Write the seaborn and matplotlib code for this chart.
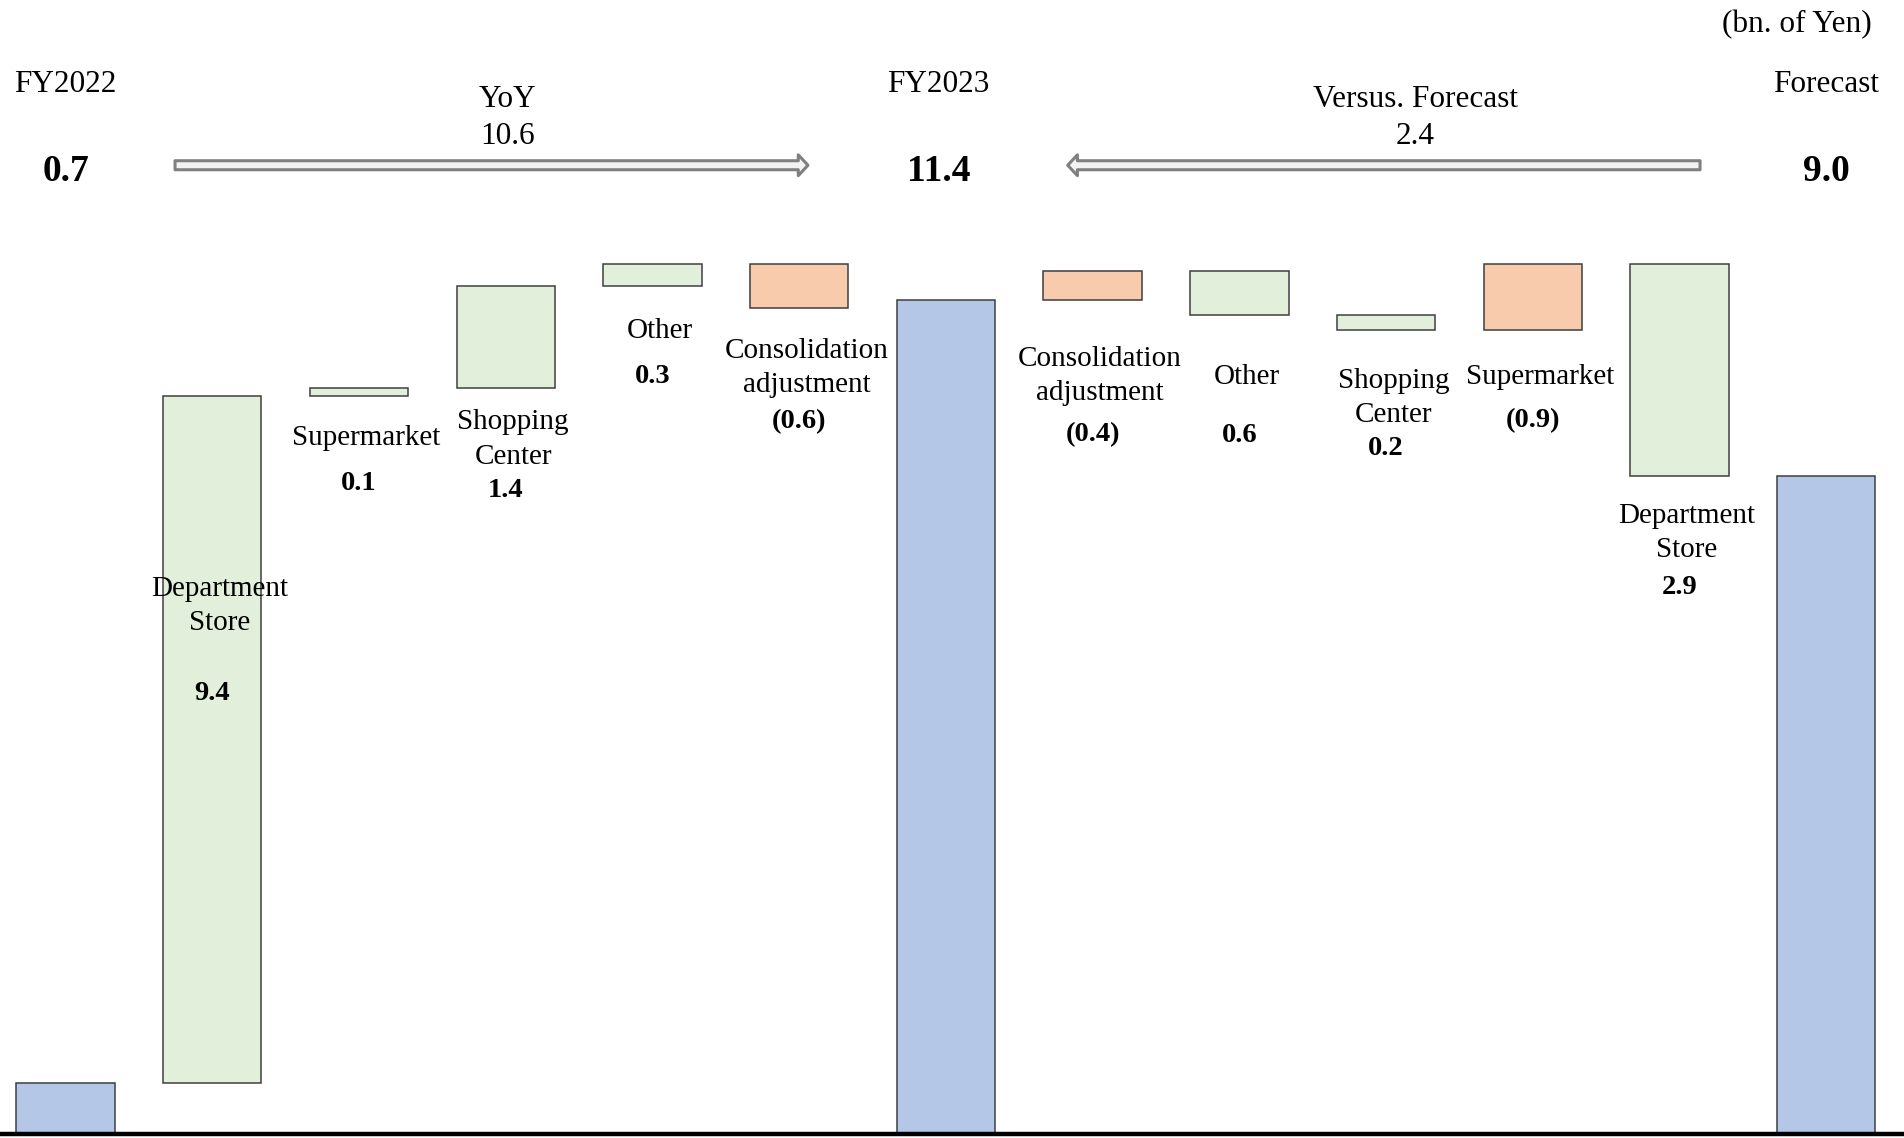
import numpy as np
import pandas as pd
import matplotlib
matplotlib.use("Agg")
import matplotlib.pyplot as plt
import seaborn as sns

# ---- data (bn. of Yen) ----
fy2022 = 0.7
fy2023 = 11.4
forecast = 9.0
yoy_diff = 10.6
vs_forecast_diff = 2.4

left_names = ["Department\nStore", "Supermarket", "Shopping\nCenter", "Other",
              "Consolidation\nadjustment"]
left_changes = [9.4, 0.1, 1.4, 0.3, -0.6]

right_names = ["Consolidation\nadjustment", "Other", "Shopping\nCenter", "Supermarket",
               "Department\nStore"]
right_changes = [-0.4, 0.6, 0.2, -0.9, 2.9]

# ---- label placement (data units) ----
name_y = [7.22, 9.52, 9.50, 10.98, 10.48,
          10.37, 10.36, 10.07, 10.36, 8.22]
value_y = [6.03, 8.90, 8.80, 10.36, 9.75,
           9.57, 9.55, 9.38, 9.76, 7.47]

COL_TOTAL = "#B4C7E7"
COL_UP = "#E2EFDA"
COL_DOWN = "#F8CBAD"
EDGE = "#3F3F3F"

# ---- build floating bar geometry ----
bottoms, heights, colors = [0.0], [fy2022], [COL_TOTAL]
level = fy2022
for ch in left_changes:
    new = level + ch
    bottoms.append(min(level, new))
    heights.append(abs(ch))
    colors.append(COL_UP if ch >= 0 else COL_DOWN)
    level = new

bottoms.append(0.0)
heights.append(fy2023)
colors.append(COL_TOTAL)

# right-hand steps run from the forecast back up to FY2023
right_geom = []
level = forecast
for ch in reversed(right_changes):
    new = level + ch
    right_geom.append((min(level, new), abs(ch), COL_UP if ch >= 0 else COL_DOWN))
    level = new
for b, h, c in reversed(right_geom):
    bottoms.append(b)
    heights.append(h)
    colors.append(c)

bottoms.append(0.0)
heights.append(forecast)
colors.append(COL_TOTAL)

n = len(heights)
df = pd.DataFrame({"step": np.arange(n), "height": heights})

sns.set_theme(style="white")
plt.rcParams["font.family"] = ["Liberation Serif", "DejaVu Serif"]
plt.rcParams["text.color"] = "black"

fig = plt.figure(figsize=(19.04, 11.38), dpi=100)
ax = fig.add_axes([0, 0, 1, 1])

sns.barplot(data=df, x="step", y="height", bottom=np.array(bottoms), width=0.67,
            color=COL_TOTAL, edgecolor=EDGE, linewidth=1.1, errorbar=None,
            saturation=1, ax=ax)
for patch, c in zip(ax.patches, colors):
    patch.set_facecolor(c)

ax.axhline(0, color="black", lw=3.2, zorder=5)
ax.set_xlim(-0.447, 12.53)
ax.set_ylim(-0.055, 15.51)
ax.axis("off")

# ---- step labels ----
def fmt(v):
    return f"{v:.1f}" if v >= 0 else f"({abs(v):.1f})"

step_idx = list(range(1, 6)) + list(range(7, 12))
names = left_names + right_names
changes = left_changes + right_changes
for k, (i, nm, ch) in enumerate(zip(step_idx, names, changes)):
    ax.text(i + 0.05, name_y[k], nm, ha="center", va="center", fontsize=21,
            linespacing=1.42, color="black")
    ax.text(i, value_y[k], fmt(ch), ha="center", va="center", fontsize=20.5,
            fontweight="bold", color="black")

# ---- header ----
ax.text(12.31, 15.18, "(bn. of Yen)", ha="right", va="center", fontsize=22.5)
for x, title, val in [(0, "FY2022", fy2022), (5.95, "FY2023", fy2023),
                      (12.0, "Forecast", forecast)]:
    ax.text(x, 14.35, title, ha="center", va="center", fontsize=22.5)
    ax.text(x, 13.17, f"{val:.1f}", ha="center", va="center", fontsize=27,
            fontweight="bold")

ax.text(3.01, 14.15, "YoY", ha="center", va="center", fontsize=22.5)
ax.text(3.01, 13.64, f"{yoy_diff:.1f}", ha="center", va="center", fontsize=22.5)
ax.text(9.2, 14.15, "Versus. Forecast", ha="center", va="center", fontsize=22.5)
ax.text(9.2, 13.64, f"{vs_forecast_diff:.1f}", ha="center", va="center", fontsize=22.5)

arrow_kw = dict(arrowstyle="simple,head_length=7,head_width=15,tail_width=6.5",
                mutation_scale=1, fc="#F2F2F2", ec="#808080", lw=2.2,
                shrinkA=0, shrinkB=0)
ax.annotate("", xy=(5.06, 13.25), xytext=(0.746, 13.25), arrowprops=arrow_kw)
ax.annotate("", xy=(6.83, 13.25), xytext=(11.14, 13.25), arrowprops=arrow_kw)

fig.savefig("out.png", dpi=100)
